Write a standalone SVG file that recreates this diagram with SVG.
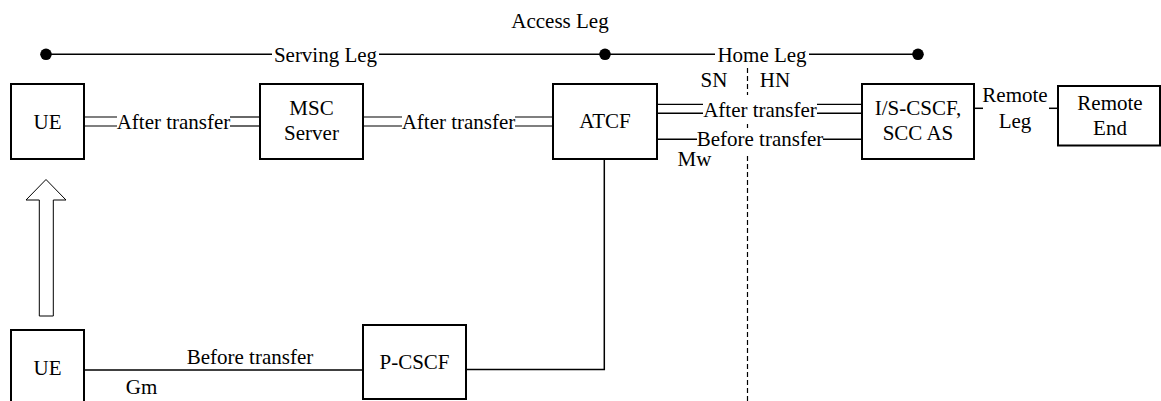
<svg xmlns="http://www.w3.org/2000/svg" width="1161" height="401" viewBox="0 0 1161 401">
<style>
.box{fill:#fff;stroke:#000;stroke-width:2}
.ln{fill:none;stroke:#000;stroke-width:1.5}
.dl{fill:none;stroke:#000;stroke-width:1.2}
.t{font-family:"Liberation Serif","Times New Roman",serif;font-size:21px;fill:#000;text-anchor:middle}
.dash{fill:none;stroke:#000;stroke-width:1.2;stroke-dasharray:5 3}
</style>
<rect width="1161" height="401" fill="#fff"/>
<g id="boundary">
<line class="dash" x1="747.5" y1="68" x2="747.5" y2="401"/>
<rect x="699" y="95" width="122" height="27" fill="#fff"/>
<rect x="694" y="128" width="132" height="26" fill="#fff"/>
<text class="t" x="714" y="87">SN</text>
<text class="t" x="775" y="87">HN</text>
</g>
<g id="legs">
<line class="ln" x1="46" y1="54.3" x2="272" y2="54.3"/>
<line class="ln" x1="379" y1="54.3" x2="715" y2="54.3"/>
<line class="ln" x1="809" y1="54.3" x2="918" y2="54.3"/>
<circle cx="46" cy="54.3" r="5.8" fill="#000"/>
<circle cx="605" cy="54.3" r="5.8" fill="#000"/>
<circle cx="918" cy="54.3" r="5.8" fill="#000"/>
<text class="t" x="325.5" y="61.5">Serving Leg</text>
<text class="t" x="762" y="61.5">Home Leg</text>
<text class="t" x="560" y="28">Access Leg</text>
</g>
<g id="connectors">
<line class="dl" x1="84" y1="117" x2="117" y2="117"/>
<line class="dl" x1="84" y1="126" x2="117" y2="126"/>
<line class="dl" x1="230" y1="117" x2="260" y2="117"/>
<line class="dl" x1="230" y1="126" x2="260" y2="126"/>
<text class="t" x="173.5" y="129">After transfer</text>
<line class="dl" x1="363" y1="117" x2="402" y2="117"/>
<line class="dl" x1="363" y1="126" x2="402" y2="126"/>
<line class="dl" x1="515" y1="117" x2="553" y2="117"/>
<line class="dl" x1="515" y1="126" x2="553" y2="126"/>
<text class="t" x="458.5" y="129">After transfer</text>
<line class="dl" x1="657" y1="104.3" x2="703" y2="104.3"/>
<line class="ln" x1="657" y1="113.3" x2="703" y2="113.3"/>
<line class="dl" x1="817" y1="104.3" x2="862" y2="104.3"/>
<line class="ln" x1="817" y1="113.3" x2="862" y2="113.3"/>
<text class="t" x="760" y="116.5">After transfer</text>
<line class="ln" x1="657" y1="139.3" x2="697" y2="139.3"/>
<line class="ln" x1="823" y1="139.3" x2="862" y2="139.3"/>
<text class="t" x="760" y="146">Before transfer</text>
<text class="t" x="694.5" y="166">Mw</text>
<line class="ln" x1="974" y1="108.3" x2="983" y2="108.3"/>
<line class="ln" x1="1049" y1="108.3" x2="1058" y2="108.3"/>
<text class="t" x="1015" y="102">Remote</text>
<text class="t" x="1015" y="128">Leg</text>
<polyline class="ln" points="604.3,159 604.3,369.5 466,369.5"/>
<line class="ln" x1="84" y1="370" x2="363" y2="370"/>
<text class="t" x="250" y="363.5">Before transfer</text>
<text class="t" x="141.5" y="393.5">Gm</text>
<polygon points="39.3,316 53.3,316 53.3,200 66,200 46,179.5 26,200 39.3,200" fill="#fff" stroke="#000" stroke-width="1"/>
</g>
<g id="ue-top">
<rect class="box" x="11" y="84" width="73" height="75"/>
<text class="t" x="47.5" y="129">UE</text>
</g>
<g id="msc">
<rect class="box" x="260" y="84" width="103" height="75"/>
<text class="t" x="311.5" y="115">MSC</text>
<text class="t" x="311.5" y="140">Server</text>
</g>
<g id="atcf">
<rect class="box" x="553" y="84" width="104" height="75"/>
<text class="t" x="605" y="128">ATCF</text>
</g>
<g id="iscscf">
<rect class="box" x="862" y="84" width="112" height="75"/>
<text class="t" x="918" y="115">I/S-CSCF,</text>
<text class="t" x="918" y="140">SCC AS</text>
</g>
<g id="remote-end">
<rect class="box" x="1058" y="86" width="102" height="59.5"/>
<text class="t" x="1110" y="110">Remote</text>
<text class="t" x="1110" y="135">End</text>
</g>
<g id="pcscf">
<rect class="box" x="363" y="325" width="103" height="74"/>
<text class="t" x="414.5" y="368.5">P-CSCF</text>
</g>
<g id="ue-bottom">
<rect class="box" x="11" y="330" width="73" height="75"/>
<text class="t" x="47.5" y="374.5">UE</text>
</g>
</svg>
